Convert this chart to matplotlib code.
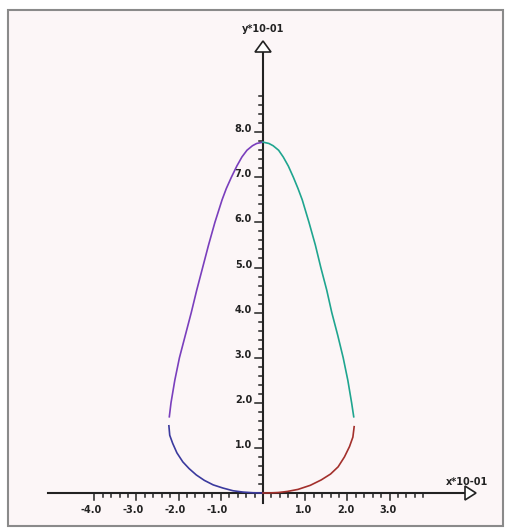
import matplotlib
matplotlib.use("Agg")
import matplotlib.pyplot as plt
from matplotlib.patches import Rectangle

upper_left_x = [0.0, -0.015, -0.025, -0.038, -0.050, -0.062, -0.075, -0.087, -0.097, -0.114,
                -0.129, -0.143, -0.157, -0.170, -0.184, -0.198, -0.209, -0.218, -0.222]
upper_left_y = [0.778, 0.775, 0.770, 0.760, 0.745, 0.725, 0.700, 0.675, 0.650, 0.600,
                0.550, 0.500, 0.450, 0.400, 0.350, 0.300, 0.250, 0.200, 0.169]
lower_left_x = [-0.223, -0.221, -0.214, -0.204, -0.190, -0.175, -0.158, -0.139, -0.118,
                -0.095, -0.071, -0.047, -0.024, 0.0]
lower_left_y = [0.149, 0.128, 0.110, 0.089, 0.069, 0.054, 0.040, 0.028, 0.018,
                0.011, 0.005, 0.002, 0.0005, 0.0]
upper_right_x = [0.0, 0.014, 0.024, 0.037, 0.048, 0.060, 0.072, 0.083, 0.093, 0.109,
                 0.124, 0.137, 0.151, 0.163, 0.177, 0.190, 0.201, 0.210, 0.215]
upper_right_y = [0.778, 0.775, 0.770, 0.760, 0.745, 0.725, 0.700, 0.675, 0.650, 0.600,
                 0.550, 0.500, 0.450, 0.400, 0.350, 0.300, 0.250, 0.200, 0.169]
lower_right_x = [0.216, 0.213, 0.205, 0.193, 0.178, 0.160, 0.138, 0.112, 0.083, 0.058,
                 0.036, 0.017, 0.0]
lower_right_y = [0.147, 0.124, 0.103, 0.080, 0.058, 0.042, 0.029, 0.017, 0.008, 0.0035,
                 0.001, 0.0002, 0.0]

x_tick_labels = ["-4.0", "-3.0", "-2.0", "-1.0", "1.0", "2.0", "3.0"]
x_tick_values = [-0.4, -0.3, -0.2, -0.1, 0.1, 0.2, 0.3]
y_tick_labels = ["1.0", "2.0", "3.0", "4.0", "5.0", "6.0", "7.0", "8.0"]
y_tick_values = [0.1, 0.2, 0.3, 0.4, 0.5, 0.6, 0.7, 0.8]

W, H = 511, 530
OX, OY = 263, 493      # origin in pixels
SX, SY = 422, 451      # pixels per unit


def px(v):
    return v / SX


def py(v):
    return v / SY


fig = plt.figure(figsize=(W / 100, H / 100), dpi=100)
fig.patch.set_facecolor("white")
ax = fig.add_axes([0, 0, 1, 1])
ax.set_xlim(-OX / SX, (W - OX) / SX)
ax.set_ylim((OY - H) / SY, OY / SY)
ax.axis("off")

# frame with pinkish background
ax.add_patch(Rectangle((8 / W, 1 - 526 / H), 495 / W, 516 / H, transform=ax.transAxes,
                       facecolor="#fcf6f7", edgecolor="#8a8a8a", lw=1.5, zorder=0))

axis_col = "#222222"
font = dict(fontsize=7, fontweight="bold", color="#222222")

# x axis
ax.plot([px(48 - OX), px(465 - OX)], [0, 0], color=axis_col, lw=1.5, zorder=2)
ax.fill([px(465 - OX), px(476 - OX), px(465 - OX)], [py(7), 0, py(-7)],
        facecolor="white", edgecolor=axis_col, lw=1.2, zorder=3)
for i in range(-20, 20):
    if i == 0:
        continue
    x = i * 0.02
    length = 7 if i % 5 == 0 else 4
    ax.plot([x, x], [0, -py(length)], color=axis_col, lw=1.1, zorder=2)
for lab, v in zip(x_tick_labels, x_tick_values):
    ax.text(v + px(7.4), -py(510 - OY), lab, ha="right", va="center", **font)
ax.text(px(467 - OX), py(OY - 482), "x*10-01", ha="center", va="center", **font)

# y axis
ax.plot([0, 0], [-py(10), py(OY - 52)], color=axis_col, lw=1.5, zorder=2)
ax.fill([px(-8), 0, px(8)], [py(OY - 52), py(OY - 41), py(OY - 52)],
        facecolor="white", edgecolor=axis_col, lw=1.2, zorder=3)
for i in range(1, 45):
    y = i * 0.02
    length = 8 if i % 5 == 0 else 4
    ax.plot([0, -px(length)], [y, y], color=axis_col, lw=1.1, zorder=2)
for lab, v in zip(y_tick_labels, y_tick_values):
    ax.text(-px(11), v, lab, ha="right", va="baseline", **font)
ax.text(0, py(OY - 29), "y*10-01", ha="center", va="center", **font)

# curve
ax.plot(upper_left_x, upper_left_y, color="#7a3fbd", lw=1.2, zorder=4)
ax.plot(lower_left_x, lower_left_y, color="#3b3a9e", lw=1.2, zorder=4)
ax.plot(upper_right_x, upper_right_y, color="#1fa58f", lw=1.2, zorder=4)
ax.plot(lower_right_x, lower_right_y, color="#a3302c", lw=1.2, zorder=4)

fig.savefig("out.png", dpi=100)
